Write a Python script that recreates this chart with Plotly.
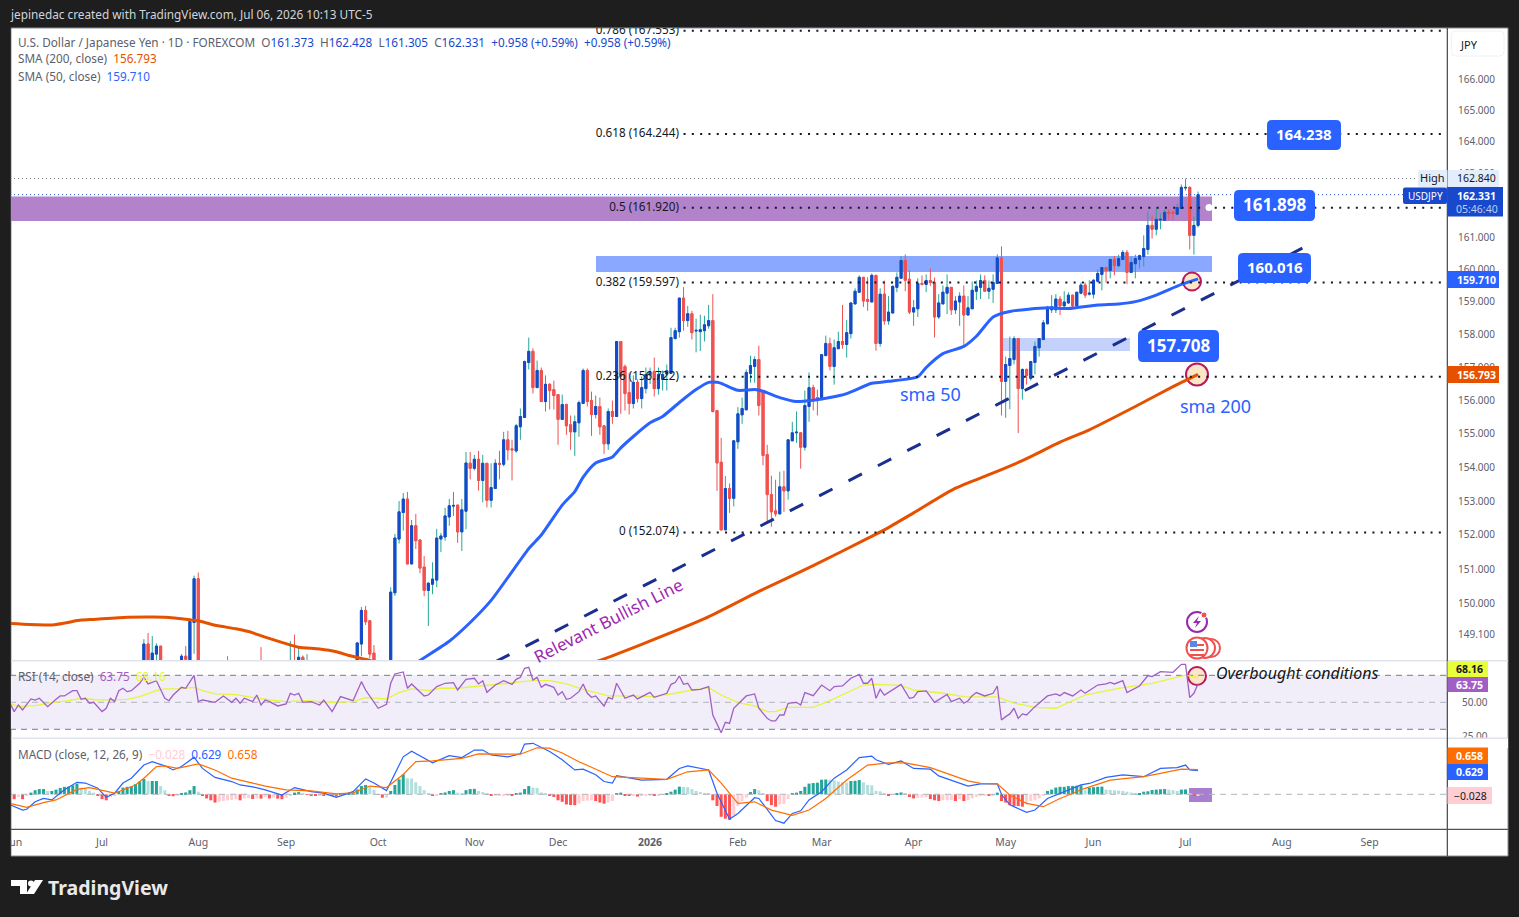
import plotly.graph_objects as go

W, H = 1519, 917
FONT = "Noto Sans"

# trading day number, 0 = 2 Jun 2025 (bars that stay under the RSI pane are left out)
bar_index = [*range(31, 36), *range(40, 45), 51, 58, 59, *range(66, 71), *range(82, 87), *range(90, 284)]

opens = [
    147.9, 148.83, 148.0, 148.54, 148.77, 147.9, 148.48, 148.0, 149.45, 150.72,
    147.8, 147.5, 147.9, 147.4, 147.9, 147.9, 148.45, 147.9, 147.8, 148.83, 149.8, 149.5, 148.57,
    148.0, 150.31, 151.88, 152.66, 153.06, 151.15, 152.27, 151.85, 151.06, 150.38,
    150.56, 150.68, 151.88, 151.94, 152.53, 152.85, 152.88, 152.09, 152.70, 154.12,
    153.97, 154.24, 153.61, 154.12, 153.02, 153.37, 154.12, 154.09, 154.82, 154.55,
    154.49, 155.21, 155.49, 157.15, 157.49, 156.39, 156.91, 155.97, 156.49, 156.33,
    156.18, 155.43, 155.88, 155.27, 155.06, 155.33, 155.91, 156.91, 156.0, 155.58,
    155.82, 155.24, 154.7, 155.67, 155.52, 157.79, 157.03, 156.24, 155.91, 156.55,
    156.06, 156.36, 156.78, 156.88, 156.36, 156.64, 156.8, 156.82, 157.88, 158.09,
    159.12, 158.43, 158.64, 158.11, 158.09, 158.12, 158.27, 158.43, 155.7, 154.15,
    152.15, 153.37, 153.08, 154.76, 155.57, 155.72, 156.82, 157.03, 157.24, 156.3,
    154.38, 153.19, 152.71, 152.62, 153.42, 153.3, 154.79, 155.03, 155.03, 154.6,
    155.82, 156.39, 156.09, 156.03, 157.36, 157.73, 157.03, 157.57, 157.79, 157.7,
    158.03, 158.94, 159.3, 159.76, 159.08, 159.0, 159.82, 157.73, 159.24, 158.42,
    158.66, 159.45, 159.73, 160.28, 159.7, 158.69, 158.79, 159.57, 159.54, 159.66,
    159.6, 158.54, 158.94, 159.27, 159.45, 158.76, 159.0, 159.18, 158.6, 158.79,
    159.33, 159.45, 159.66, 159.33, 159.39, 159.57, 160.36, 156.58, 157.06, 157.24,
    157.88, 156.36, 156.94, 156.67, 157.15, 157.6, 157.85, 158.33, 158.76, 158.76,
    159.09, 158.88, 158.97, 159.21, 158.88, 159.27, 159.52, 159.24, 159.24, 159.64,
    159.85, 160.06, 159.97, 160.31, 160.12, 160.31, 160.53, 159.91, 160.18, 160.31,
    160.4, 160.62, 161.37, 161.25, 161.54, 161.53, 161.78, 161.78, 161.72, 161.9,
    162.54, 162.56, 161.06, 161.373,
]
highs = [
    148.97, 149.15, 149.06, 148.85, 148.77, 148.54, 148.77, 149.5, 150.81, 150.9,
    148.48, 148.36, 148.74, 148.92, 149.1, 148.74, 148.5, 148.54, 148.89, 149.9, 149.93, 149.5, 148.8,
    150.47, 152.03, 153.0, 153.24, 153.27, 152.44, 152.62, 151.88, 151.38, 150.62,
    151.2, 152.18, 152.06, 152.8, 153.06, 153.27, 152.88, 153.06, 154.46, 154.46,
    154.37, 154.49, 154.37, 154.12, 154.12, 154.24, 154.49, 155.06, 155.09, 154.82,
    155.3, 155.76, 157.21, 157.91, 157.58, 157.21, 157.0, 156.76, 156.52, 156.6,
    156.18, 156.18, 155.91, 155.55, 155.55, 156.0, 156.97, 156.97, 156.27, 156.15,
    156.09, 155.24, 155.76, 156.0, 157.79, 157.79, 157.09, 156.84, 156.76, 156.64,
    156.73, 157.0, 157.0, 157.3, 157.0, 156.91, 157.09, 158.21, 158.21, 159.12,
    159.46, 158.88, 158.73, 158.49, 158.61, 158.58, 158.91, 159.24, 155.7, 154.88,
    153.74, 153.52, 154.79, 155.8, 156.09, 156.94, 157.36, 157.34, 157.66, 156.3,
    154.67, 153.75, 153.63, 153.87, 153.9, 154.82, 155.36, 155.67, 155.03, 156.3,
    156.85, 156.48, 156.33, 157.39, 157.97, 157.91, 157.85, 158.09, 158.91, 158.45,
    158.97, 159.42, 159.82, 159.76, 159.76, 159.88, 159.82, 159.42, 159.66, 159.18,
    159.51, 159.91, 160.41, 160.47, 159.97, 159.06, 159.73, 159.82, 159.85, 160.03,
    159.75, 159.24, 159.51, 159.85, 159.45, 159.18, 159.3, 159.51, 159.18, 159.63,
    159.66, 159.85, 159.82, 159.66, 159.85, 160.47, 160.72, 157.33, 157.94, 157.95,
    157.88, 156.97, 156.97, 157.18, 157.79, 157.88, 158.45, 158.88, 159.21, 159.24,
    159.18, 159.33, 159.3, 159.21, 159.3, 159.6, 159.6, 159.67, 159.7, 160.0,
    160.06, 160.09, 160.34, 160.42, 160.46, 160.6, 160.6, 160.4, 160.46, 160.46,
    161.06, 161.81, 161.68, 161.93, 161.75, 161.87, 161.87, 161.84, 162.05, 162.65,
    162.84, 162.59, 161.66, 162.428,
]
lows = [
    147.7, 147.8, 147.8, 148.2, 147.9, 147.7, 148.2, 147.9, 148.55, 147.3,
    147.5, 147.3, 147.4, 147.2, 147.4, 147.7, 147.8, 147.7, 147.6, 148.48, 149.38, 148.42, 147.7,
    147.9, 150.22, 151.75, 152.13, 151.15, 151.15, 151.59, 150.88, 150.21, 149.35,
    150.27, 150.47, 151.5, 151.83, 152.27, 152.56, 151.77, 151.53, 152.17, 153.64,
    153.91, 153.31, 152.96, 152.81, 152.81, 153.37, 153.64, 154.03, 154.21, 153.61,
    154.43, 154.82, 155.49, 156.94, 156.21, 156.39, 155.97, 155.67, 155.73, 155.73,
    154.67, 155.43, 154.97, 154.52, 154.34, 154.91, 155.91, 155.82, 154.94, 155.46,
    154.97, 154.4, 154.52, 155.3, 155.52, 155.6, 155.7, 155.58, 155.76, 155.94,
    155.76, 156.21, 156.5, 156.12, 156.18, 156.3, 156.3, 156.82, 157.85, 157.91,
    158.12, 158.24, 157.85, 157.46, 157.5, 157.79, 158.18, 155.64, 153.3, 152.13,
    152.15, 152.65, 152.84, 154.55, 155.3, 155.72, 156.54, 156.54, 155.55, 154.06,
    152.36, 152.24, 152.54, 152.62, 152.68, 153.04, 154.79, 154.73, 153.96, 154.5,
    155.36, 155.7, 155.55, 156.03, 157.36, 156.91, 156.48, 157.57, 157.57, 157.3,
    157.88, 158.94, 159.3, 158.85, 158.73, 159.0, 157.51, 157.63, 158.3, 158.3,
    158.66, 159.3, 159.73, 159.33, 158.63, 158.27, 158.54, 159.51, 159.3, 159.5,
    157.91, 158.48, 158.94, 158.63, 158.6, 158.63, 158.27, 157.63, 158.6, 158.79,
    159.06, 159.09, 159.33, 159.09, 158.97, 159.57, 155.55, 155.48, 155.74, 157.09,
    155.02, 156.03, 156.48, 156.6, 156.79, 157.33, 157.85, 158.33, 158.66, 158.66,
    158.6, 158.85, 158.94, 158.79, 158.88, 159.24, 159.12, 159.2, 159.11, 159.6,
    159.36, 159.6, 159.73, 159.82, 160.06, 160.31, 159.55, 159.91, 159.73, 160.03,
    160.09, 160.46, 160.96, 161.06, 161.25, 161.53, 161.53, 161.53, 161.72, 161.9,
    162.46, 160.62, 160.46, 161.305,
]
closes = [
    148.83, 148.0, 148.57, 148.77, 148.0, 148.48, 148.39, 149.48, 150.72, 147.4,
    147.7, 147.8, 147.6, 147.9, 147.6, 148.45, 148.0, 148.2, 148.86, 149.8, 149.47, 148.54, 147.9,
    150.33, 151.91, 152.68, 153.06, 151.15, 152.27, 151.83, 151.03, 150.38, 150.59,
    150.71, 151.91, 151.97, 152.56, 152.86, 152.87, 152.09, 152.74, 154.13, 153.97,
    154.24, 153.61, 154.12, 153.02, 153.4, 154.12, 154.09, 154.82, 154.52, 154.52,
    155.24, 155.52, 157.18, 157.49, 156.39, 156.91, 155.97, 156.49, 156.3, 156.15,
    155.43, 155.88, 155.24, 155.06, 155.36, 155.94, 156.91, 155.97, 155.58, 155.82,
    155.21, 154.7, 155.67, 155.52, 157.79, 156.73, 156.21, 155.91, 156.55, 156.06,
    156.39, 156.79, 156.86, 156.36, 156.79, 156.79, 156.9, 157.91, 158.12, 159.12,
    158.43, 158.64, 158.06, 158.13, 158.15, 158.3, 158.43, 155.67, 154.13, 152.15,
    153.37, 153.08, 154.79, 155.6, 155.76, 156.85, 157.06, 157.24, 155.85, 154.35,
    153.19, 152.68, 152.62, 153.42, 153.3, 154.82, 155.03, 155.05, 154.6, 155.85,
    156.39, 156.06, 156.0, 157.39, 157.73, 157.03, 157.6, 157.79, 157.7, 158.06,
    158.97, 159.33, 159.76, 159.03, 159.02, 159.82, 157.73, 159.24, 158.42, 158.69,
    159.48, 159.76, 160.28, 159.67, 158.69, 158.82, 159.57, 159.54, 159.66, 159.6,
    158.54, 158.97, 159.3, 159.45, 158.76, 159.03, 159.18, 158.6, 158.82, 159.36,
    159.48, 159.66, 159.33, 159.42, 159.6, 160.36, 156.58, 157.09, 157.27, 157.88,
    156.36, 156.94, 156.76, 157.18, 157.64, 157.88, 158.36, 158.78, 158.85, 159.09,
    158.88, 159.0, 159.21, 158.88, 159.3, 159.52, 159.21, 159.27, 159.67, 159.88,
    160.06, 159.97, 160.31, 160.12, 160.34, 160.53, 159.91, 160.22, 160.34, 160.43,
    160.65, 161.37, 161.25, 161.56, 161.56, 161.78, 161.75, 161.75, 161.93, 162.56,
    162.56, 161.06, 161.37, 162.331,
]

sma200_x = [-1, 9, 16, 19, 27, 33, 36, 42, 44, 48, 53, 56, 60, 65, 68, 73, 77, 80, 85, 88, 110, 130, 140,
            150, 165, 178, 191, 204, 208, 215, 225, 233, 241, 250, 257, 268, 277, 283]
sma200_y = [149.42, 149.38, 149.52, 149.54, 149.6, 149.61, 149.6, 149.53, 149.5, 149.37, 149.27, 149.19,
            149.03, 148.84, 148.74, 148.69, 148.61, 148.5, 148.36, 148.25, 147.9, 148.0, 148.36,
            148.82, 149.56, 150.35, 151.1, 151.9, 152.15, 152.65, 153.38, 153.78, 154.2, 154.75,
            155.12, 155.82, 156.42, 156.793]

sma50_x = [90, 97, 104, 109, 114, 123, 126, 131, 134, 136, 139, 143, 145, 148, 152, 155, 159, 163, 166, 168,
           169, 173, 177, 179, 183, 187, 191, 195, 199, 205, 209, 216, 218, 222, 227, 230, 234, 238,
           247, 252, 259, 264, 268, 273, 279, 283]
sma50_y = [147.8, 148.36, 148.91, 149.45, 150.09, 151.6, 152.0, 152.88, 153.28, 153.71, 154.13, 154.31, 154.58,
           154.92, 155.33, 155.52, 155.94, 156.33, 156.55, 156.55, 156.52, 156.31, 156.33, 156.28,
           156.09, 155.97, 156.01, 156.09, 156.21, 156.52, 156.58, 156.72, 157.0, 157.42, 157.64,
           157.95, 158.54, 158.71, 158.82, 158.8, 158.91, 158.94, 159.01, 159.21, 159.54, 159.71]

rsi_x = [-1, 0, 1, 2, 4, 5, 6, 8, 10, 11, 12, 14, 15, 16, 17, 18, 19, 21, 22, 23, 24, 25, 26, 27, 28, 30, 31, 32,
         34, 36, 37, 38, 40, 41, 43, 44, 45, 48, 50, 52, 53, 54, 55, 57, 58, 59, 60, 61, 63, 65, 66, 67, 68,
         69, 71, 73, 74, 76, 78, 79, 81, 83, 84, 87, 88, 89, 90, 91, 93, 94, 95, 98, 99, 101, 103, 105, 106,
         108, 110, 111, 112, 113, 115, 116, 117, 119, 120, 121, 122, 123, 124, 125, 126, 127, 129, 130, 131,
         132, 133, 135, 136, 137, 138, 139, 141, 142, 143, 144, 146, 148, 149, 152, 153, 156, 157, 158, 159,
         160, 161, 162, 164, 166, 167, 169, 170, 171, 172, 175, 177, 178, 180, 181, 182, 183, 184, 185, 187,
         188, 189, 191, 193, 195, 196, 198, 200, 202, 203, 204, 205, 206, 207, 208, 210, 212, 214, 215, 216,
         218, 220, 223, 224, 226, 227, 228, 229, 230, 232, 234, 235, 236, 237, 238, 239, 240, 241, 242, 244,
         247, 249, 250, 251, 253, 255, 256, 259, 261, 262, 263, 265, 266, 269, 271, 272, 274, 277, 279, 280,
         281, 282, 283]
rsi_y = [49.3, 43.1, 48, 44.3, 52.5, 51.7, 53, 46.8, 52.2, 54.7, 54.7, 58.6, 58.6, 52.2, 53, 49.3, 50, 43.1, 45.6,
         53, 50.5, 58.6, 60.4, 57.9, 58.6, 64.1, 68.5, 63.6,
         66, 53, 51.2, 55.4, 61.1, 60.4, 70, 50.5, 51.7, 50, 54.7, 50, 53, 49.3, 53, 50.5, 55.4, 48, 51.7, 50.5,
         47.3, 48.8, 56.7, 55.4, 56.7,
         50, 50.5, 48, 51.7, 43.1, 54.2, 53, 51.2, 65.3, 59.1, 45.6, 46.8, 48.5, 64.1, 71, 72.5, 60.4, 63.6,
         54.7, 55.4, 61.6, 64.1, 64.6, 59.1,
         67, 67.8, 63.6, 66, 57.4, 62.8, 64.1, 66, 63.3, 67, 68.5, 75.2, 75.9, 66.5, 68.5, 61.1, 63.3, 61.1, 55.4, 57.9,
         52.2, 53, 57.9, 63.6, 56.7, 53.7, 54.7, 47.3, 53.5, 52.5, 64.1, 53, 55.4, 52.5, 57.4, 53.7, 56.7, 63.3,
         64.6, 69.5,
         63.3, 64.1, 59.1, 59.6, 61.6, 40.6, 27.5, 35.2, 34.4, 45.6, 54.7, 56.2, 45.6, 38.1, 36.2, 36.2, 40.6,
         40.6, 49.3, 50,
         48, 57.2, 54.9, 62.8, 58.6, 61.6, 62.1, 67.8, 70.7, 64.1, 64.1, 67.8, 53, 59.6, 55.4, 59.6, 63.3, 53,
         53.7, 57.9,
         58.4, 50, 55.9, 50.5, 53, 49.3, 51.2, 54.9, 57.2, 54.7, 56.7, 62.1, 36.9, 39.4, 41.4, 45.6, 38.1, 41.4,
         40.6, 46.8,
         54.7, 56.2, 54.9, 57.2, 54.7, 59.1, 56.7, 62.8, 63.6, 64.8, 63.6, 66, 57.2, 62.1, 69.8, 69, 72.7, 72.2,
         78.1, 78.1,
         53.5, 56.7, 63.75]

rsi_ma_x = [-1, 1, 5, 9, 13, 16, 20, 23, 27, 30, 34, 36, 40, 43, 45, 48, 53, 57, 61, 65, 70, 76, 81, 84, 89, 92,
            95, 99, 102, 106, 110, 115, 120, 124, 128, 132, 136, 142, 148, 153, 158, 162, 166, 169, 173, 177,
            180, 182, 185, 191, 195, 201, 203, 206, 212, 215, 222, 227, 233, 235, 239, 244, 249, 256, 264, 272,
            280, 283]
rsi_ma_y = [49.3, 46.8, 47.5, 49.8, 51.2, 53, 51.7, 51.7, 52.2, 54.2, 58.6, 59.9, 60.1, 61.1, 58.6, 56.2, 55.7,
            53.7, 51.7, 50.5, 51.2, 50, 50.5, 53.5, 52.5, 57.2, 59.9, 58.6, 60.6, 60.4, 61.6, 63.3, 64.6, 66,
            66, 63.6, 59.6, 54.7, 54.7, 54.2, 56.7, 59.1, 60.9, 55.4, 49.8, 47.3, 43.1, 43.1, 46.3, 46.3, 51.2,
            59.6, 62.8, 63.3, 62.6, 59.1, 56.7, 54.2, 53.7, 54, 49.4, 46.3, 45.6, 55.4, 60.4, 64.1, 70.1, 68.16]

macd_x = [-1, 0, 2, 3, 5, 7, 9, 12, 15, 17, 20, 22, 24, 26, 28, 31, 33, 36, 38, 40, 43, 45, 48, 52, 54, 57, 60, 64,
          67, 71, 74, 77, 81, 84, 86, 89, 93, 95, 100, 104, 107, 110, 112, 114, 116, 118, 121, 122, 124, 128,
          131, 134, 136, 139, 141, 143, 144, 150, 156, 159, 161, 166, 168, 171, 173, 177, 178, 180, 182, 184,
          186, 188, 190, 193, 196, 199, 202, 205, 206, 209, 212, 215, 219, 221, 224, 228, 231, 235, 236, 238,
          242, 244, 247, 255, 257, 261, 265, 270, 274, 278, 280, 281, 283]
macd_y = [-0.28, -0.33, -0.42, -0.4, -0.2, -0.11, -0.15, 0.12, 0.32, 0.3, 0.16, -0.08, 0.03, 0.3, 0.43, 0.78, 0.87,
          0.76, 0.65, 0.74, 0.99, 0.69, 0.45, 0.34, 0.25, 0.2, 0.12, -0.02,
          0.18, 0.07, 0.03, -0.08, 0.07, 0.41, 0.3, 0.1, 1.0, 1.15, 0.84, 1.03, 0.98, 1.18, 1.18, 1.05, 1.03, 1.0,
          1.08, 1.34, 1.36, 1.14,
          0.92, 0.65, 0.67, 0.52, 0.34, 0.3, 0.5, 0.38, 0.4, 0.69, 0.76, 0.65, 0.03, -0.66, -0.51, -0.09, -0.11,
          -0.42, -0.7, -0.77,
          -0.51, -0.44, -0.15, 0.07, 0.43, 0.65, 0.98, 1.02, 0.92, 0.8, 0.89, 0.69, 0.67, 0.49, 0.37, 0.22, 0.28,
          0.28, 0.0, -0.28,
          -0.48, -0.42, -0.11, 0.25, 0.29, 0.45, 0.52, 0.47, 0.69, 0.71, 0.78, 0.65, 0.629]

signal_x = [-1, 3, 7, 10, 15, 18, 20, 24, 29, 31, 34, 36, 39, 44, 48, 52, 57, 60, 65, 71, 77, 81, 85, 89, 93, 96,
            100, 107, 111, 116, 121, 125, 128, 131, 135, 138, 143, 150, 156, 161, 166, 169, 173, 177, 181, 186,
            190, 194, 199, 204, 209, 213, 219, 228, 231, 235, 238, 242, 246, 250, 256, 262, 270, 274, 279, 283]
signal_y = [-0.24, -0.35, -0.22, -0.15, 0.13, 0.18, 0.13, 0.03, 0.25, 0.43, 0.74, 0.76, 0.69, 0.81, 0.65, 0.43, 0.3,
            0.22, 0.12, 0.09, 0.01, 0.04, 0.22, 0.18, 0.53, 0.87, 0.89, 0.96, 1.08, 1.07, 1.07, 1.24, 1.23, 1.1,
            0.87, 0.72, 0.47, 0.43, 0.4, 0.6, 0.65, 0.3, -0.24, -0.2, -0.42, -0.56, -0.42, -0.11, 0.38, 0.78, 0.84,
            0.84, 0.71, 0.36, 0.29, 0.28, -0.02, -0.24, -0.33, -0.11, 0.16, 0.38, 0.47, 0.56, 0.67, 0.658]

macd_hist = [
    -.13, -.07, -.13, -.045, .045, .11, .14, .14, .09, .09,
    .125, .17, .2, .205, .24, .285, .18, .16, .09, .045,
    -.03, -.13, -.16, -.07, -.03, .09, .18, .2, .21, .27,
    .34, .41, .355, .355, .355, .22, .11, -.03, -.05, -.03,
    .02, .05, .11, .22, .07, -.03, -.11, -.16, -.22, -.2,
    -.18, -.16, -.15, -.13, -.16, -.11, -.105, -.125, -.11, -.115,
    -.07, -.11, -.09, -.115, -.13, -.09, -.03, .045, .06, .03,
    -.01, -.03, -.035, -.03, -.045, -.02, -.045, -.06, .03, .035,
    .045, .05, .13, .22, .25, .2, .125, -.01, -.09, -.09,
    .09, .25, .4, .53, .43, .42, .32, .22, .11, .01,
    -.03, -.02, .03, .05, .09, .11, .045, .03, .11, .14,
    .145, .09, .06, .01, -.045, -.02, -.02, -.02, -.02, -.045,
    .02, .045, .14, .22, .18, .17, .05, .03, -.045, -.07,
    -.16, -.2, -.27, -.285, -.29, -.25, -.18, -.17, -.16, -.18,
    -.22, -.25, -.22, -.18, .01, .045, -.03, -.045, -.02, -.06,
    -.05, -.035, -.02, -.035, -.02, -.015, .01, .07, .125, .205,
    .2, .19, .14, .09, .06, .035, .03, -.16, -.31, -.6,
    -.65, -.68, -.55, -.31, -.18, -.09, .06, .14, .11, .01,
    -.18, -.29, -.33, -.27, -.26, -.125, .01, .045, .09, .2,
    .285, .3, .31, .39, .395, .39, .37, .34, .32, .31,
    .355, .36, .38, .32, .25, .24, .09, .08, .01, -.03,
    -.01, .01, .05, .03, -.07, -.11, -.09, -.085, -.08, -.125,
    -.16, -.18, -.16, -.155, -.15, -.18, -.13, -.18, -.16, -.11,
    -.07, -.045, -.02, -.03, -.02, .045, -.18, -.22, -.29, -.31,
    -.315, -.33, -.27, -.18, -.16, -.11, -.045, .09, .125, .18,
    .2, .2, .22, .225, .23, .24, .11, .18, .19, .2,
    .205, .125, .115, .11, .1, .09, .07, .045, .02, .03,
    .07, .08, .115, .125, .135, .14, .125, .11, .09, .125,
    .13, .02, -.03, -.028,
]

fib_labels = ["0.786", "0.618", "0.5", "0.382", "0.236", "0"]
fib_values = [167.553, 164.244, 161.920, 159.597, 156.722, 152.074]
high_value = 162.840
last_value = 162.331
trend_x = [115.2, 308.8]
trend_y = [148.33, 160.72]

price_ticks = [149.1, 150, 151, 152, 153, 154, 155, 156, 157, 158, 159, 160, 161, 163, 164, 165, 166]
rsi_ticks = [50, 25]
rsi_levels = [70, 50, 30]
month_ticks = [0, 21, 44, 65, 87, 110, 130, 152, 173, 193, 215, 237, 258, 280, 303, 324]
month_labels = ["Jun", "Jul", "Aug", "Sep", "Oct", "Nov", "Dec", "<b>2026</b>", "Feb", "Mar", "Apr", "May", "Jun", "Jul", "Aug", "Sep"]

assert len(opens) == len(highs) == len(lows) == len(closes) == len(bar_index)
assert len(macd_hist) == 284
assert len(rsi_x) == len(rsi_y) and len(macd_x) == len(macd_y) and len(signal_x) == len(signal_y)
assert len(sma50_x) == len(sma50_y) and len(sma200_x) == len(sma200_y) and len(rsi_ma_x) == len(rsi_ma_y)

BLUE = "#1848cc"
RED = "#ef5350"
TEAL = "#26a69a"
TEXT = "#5d606b"


def fx(px):
    return px / W


def fy(py):
    return 1 - py / H


fig = go.Figure()

# wicks first, the bodies go on top of them so they can have their own colour
fig.add_trace(go.Candlestick(
    x=bar_index, open=opens, high=highs, low=lows, close=closes, whiskerwidth=0,
    increasing=dict(line=dict(color=TEAL, width=1), fillcolor=TEAL),
    decreasing=dict(line=dict(color=RED, width=1), fillcolor=RED),
))
body_high = [max(o, c) for o, c in zip(opens, closes)]
body_low = [min(o, c) for o, c in zip(opens, closes)]
fig.add_trace(go.Candlestick(
    x=bar_index, open=opens, high=body_high, low=body_low, close=closes, whiskerwidth=0,
    increasing=dict(line=dict(color=BLUE, width=1), fillcolor=BLUE),
    decreasing=dict(line=dict(color=RED, width=1), fillcolor=RED),
))

fig.add_trace(go.Scatter(x=sma200_x, y=sma200_y, mode="lines", line=dict(color="#e65100", width=3, shape="spline", smoothing=0.6)))
fig.add_trace(go.Scatter(x=sma50_x, y=sma50_y, mode="lines", line=dict(color="#2962ff", width=3, shape="spline", smoothing=0.6)))
fig.add_trace(go.Scatter(x=trend_x, y=trend_y, mode="lines", line=dict(color="#1a2f8f", width=3, dash="15px,18px")))

# price lines
fig.add_trace(go.Scatter(x=[-1, 343], y=[high_value] * 2, mode="lines", line=dict(color="#787b86", width=1, dash="1px,3px")))
fig.add_trace(go.Scatter(x=[-1, 343], y=[last_value] * 2, mode="lines", line=dict(color=BLUE, width=1, dash="1px,3px")))

# fibonacci levels
for v in fib_values:
    fig.add_trace(go.Scatter(x=[160, 343], y=[v, v], mode="lines", line=dict(color="#131722", width=2, dash="2px,6.3px")))
fig.add_trace(go.Scatter(
    x=[158.9] * len(fib_values), y=fib_values, mode="text",
    text=[f"{a} ({b:.3f})" for a, b in zip(fib_labels, fib_values)],
    textposition="middle left", textfont=dict(family=FONT, size=11.7, color="#131722"),
))

# RSI pane
for lv in rsi_levels:
    col = "#787b86" if lv != 50 else "#b2b5be"
    fig.add_trace(go.Scatter(x=[-1, 343], y=[lv, lv], yaxis="y2", mode="lines", line=dict(color=col, width=1, dash="6px,5px")))
fig.add_trace(go.Scatter(x=rsi_ma_x, y=rsi_ma_y, yaxis="y2", mode="lines", line=dict(color="#e6f53c", width=1.3)))
fig.add_trace(go.Scatter(x=rsi_x, y=rsi_y, yaxis="y2", mode="lines", line=dict(color="#a15fc6", width=1.3)))

# MACD pane
hist_colors = []
prev = 0
for v in macd_hist:
    if v >= 0:
        hist_colors.append("#26a69a" if v >= prev else "#b2dfdb")
    else:
        hist_colors.append("#ff5252" if v < prev else "#ffcdd2")
    prev = v
fig.add_trace(go.Scatter(x=[-1, 343], y=[0, 0], yaxis="y3", mode="lines", line=dict(color="#b2b5be", width=1, dash="6px,5px")))
fig.add_trace(go.Bar(x=list(range(len(macd_hist))), y=macd_hist, yaxis="y3", marker=dict(color=hist_colors, line=dict(width=0)), width=0.72))
fig.add_trace(go.Scatter(x=macd_x, y=macd_y, yaxis="y3", mode="lines", line=dict(color="#2962ff", width=1.2)))
fig.add_trace(go.Scatter(x=signal_x, y=signal_y, yaxis="y3", mode="lines", line=dict(color="#ff6d00", width=1.2)))

shapes = []
notes = []


def rect(x0, y0, x1, y1, fill, layer="below", line=None, lw=0):
    shapes.append(dict(type="rect", xref="paper", yref="paper", x0=fx(x0), x1=fx(x1), y0=fy(y0), y1=fy(y1),
                       fillcolor=fill, layer=layer, line=dict(color=line or fill, width=lw)))


def round_box(x0, y0, x1, y1, fill, r=4, line=None, lw=0):
    p = (f"M {fx(x0 + r)},{fy(y0)} L {fx(x1 - r)},{fy(y0)} Q {fx(x1)},{fy(y0)} {fx(x1)},{fy(y0 + r)} "
         f"L {fx(x1)},{fy(y1 - r)} Q {fx(x1)},{fy(y1)} {fx(x1 - r)},{fy(y1)} "
         f"L {fx(x0 + r)},{fy(y1)} Q {fx(x0)},{fy(y1)} {fx(x0)},{fy(y1 - r)} "
         f"L {fx(x0)},{fy(y0 + r)} Q {fx(x0)},{fy(y0)} {fx(x0 + r)},{fy(y0)} Z")
    shapes.append(dict(type="path", xref="paper", yref="paper", path=p, fillcolor=fill, layer="above",
                       line=dict(color=line or fill, width=lw)))


def circle(cx, cy, r, fill, line, lw=2, layer="above"):
    shapes.append(dict(type="circle", xref="paper", yref="paper", x0=fx(cx - r), x1=fx(cx + r), y0=fy(cy - r), y1=fy(cy + r),
                       fillcolor=fill, layer=layer, line=dict(color=line, width=lw)))


def poly(points, fill, layer="above"):
    p = "M " + " L ".join(f"{fx(a)},{fy(b)}" for a, b in points) + " Z"
    shapes.append(dict(type="path", xref="paper", yref="paper", path=p, fillcolor=fill, layer=layer, line=dict(width=0)))


def note(px, py, text, size=11, color=TEXT, anchor="left", angle=0, family=FONT):
    notes.append(dict(xref="paper", yref="paper", x=fx(px), y=fy(py), text=text, showarrow=False, xanchor=anchor,
                      yanchor="middle", textangle=angle, borderpad=0, font=dict(family=family, size=size, color=color)))


def span(text, color):
    return f'<span style="color:{color}">{text}</span>'


# chart background and the zones drawn on it
rect(11, 28, 1508, 856, "#ffffff", line="#8a8d96", lw=1)
rect(11, 196.5, 1212, 221, "#b283ca")
rect(596, 256, 1212, 272, "#8aa8ff")
rect(1001, 338, 1130, 351, "#c3d1fb")
rect(11, 675.3, 1447, 729.3, "#f1edf9")
rect(1189, 788, 1212, 802, "#a87fd0")
circle(1192, 281.5, 9, "#fbe6c5", "#b7185f", layer="below")
circle(1197, 374.5, 11, "#fbe6c5", "#b7185f", layer="below")
circle(1197, 676, 9, "#fbe6c5", "#b7185f", layer="below")
circle(1209, 207.5, 3.5, "#ffffff", "#ffffff", lw=0)

# frame pieces
rect(0, 28, 10.5, 856, "#1e1e1e", layer="above")
rect(1448, 738, 1508, 748, "#ffffff", layer="above")
rect(11, 660, 1508, 661.5, "#e0e3eb", layer="above")
rect(11, 737.5, 1508, 739, "#e0e3eb", layer="above")
rect(11, 828.7, 1508, 830, "#50535e", layer="above")
rect(1446.7, 28, 1448, 856, "#50535e", layer="above")

# icons above the RSI pane
circle(1197, 622, 10, "#ffffff", "#9c27b0")
poly([(1199, 616), (1193, 623), (1197, 623), (1195, 628), (1201, 621), (1197, 621)], "#9c27b0")
circle(1204, 615, 3, "#ef5350", "#ffffff", lw=1)
circle(1211, 648, 9, "#ffffff", "#ef5350")
circle(1205, 648, 10, "#ffffff", "#ef5350")
circle(1197, 648, 10.5, "#ffffff", "#ef5350")
for sy in (645, 650, 655):
    rect(1190, sy - 1, 1204, sy + 1, "#ef5350", layer="above")
rect(1190, 641, 1197, 647, "#5b86e5", layer="above")

# price tags on the chart
for cx0, cy0, cx1, cy1, label, sz in [(1267, 120, 1341, 150, "164.238", 15), (1234, 190, 1315, 221, "161.898", 17),
                                      (1238, 253, 1311, 283, "160.016", 15), (1138, 330, 1219, 362, "157.708", 17)]:
    round_box(cx0, cy0, cx1, cy1, "#2962ff", r=5)
    note((cx0 + cx1) / 2, (cy0 + cy1) / 2 - 1, f"<b>{label}</b>", size=sz, color="#ffffff", anchor="center")

note(930, 394, "sma 50", size=18, color="#2962ff", anchor="center")
note(1215, 406, "sma 200", size=18, color="#2962ff", anchor="center")
note(608, 620, "Relevant Bullish Line", size=17, color="#9c27b0", anchor="center", angle=-27)
note(1297, 673, "<i>Overbought conditions</i>", size=16, color="#131722", anchor="center")

# right scale tags
round_box(1451.5, 31, 1504, 56, "#ffffff", r=4, line="#f0f1f4", lw=1)
note(1469, 44, "JPY", size=11, color="#131722", anchor="center")
round_box(1418, 170, 1447, 187, "#e3edfc", r=2)
rect(1447.5, 170, 1499, 187, "#e3edfc", layer="above")
note(1432, 178, "High", size=11, color="#131722", anchor="center")
note(1476, 178, "162.840", size=10.5, color="#131722", anchor="center")
round_box(1403, 187.5, 1447, 204, BLUE, r=2)
rect(1447.5, 187, 1503, 216.5, BLUE, layer="above")
note(1425, 196, "USDJPY", size=10, color="#ffffff", anchor="center")
note(1476, 196, "<b>162.331</b>", size=10.5, color="#ffffff", anchor="center")
note(1477, 209, "05:46:40", size=10.5, color="#bcd0f5", anchor="center")
rect(1447.5, 271, 1499, 288, "#2962ff", layer="above")
note(1476, 280, "<b>159.710</b>", size=10.5, color="#ffffff", anchor="center")
rect(1447.5, 366, 1499, 383, "#e65100", layer="above")
note(1476, 375, "<b>156.793</b>", size=10.5, color="#ffffff", anchor="center")
rect(1447.5, 661, 1488, 677, "#e8ff3a", layer="above")
note(1469, 669, "<b>68.16</b>", size=10.5, color="#131722", anchor="center")
rect(1447.5, 677, 1488, 692, "#a15fc6", layer="above")
note(1469, 684.5, "<b>63.75</b>", size=10.5, color="#ffffff", anchor="center")
rect(1447.5, 747.5, 1488, 764, "#ff6d00", layer="above")
note(1469, 755.5, "<b>0.658</b>", size=10.5, color="#ffffff", anchor="center")
rect(1447.5, 764, 1488, 780, "#2962ff", layer="above")
note(1469, 771.5, "<b>0.629</b>", size=10.5, color="#ffffff", anchor="center")
rect(1447.5, 787, 1492, 804, "#ffcdd2", layer="above")
note(1470, 795.5, "−0.028", size=10.5, color="#131722", anchor="center")

# header and legends
note(9, 14, "jepinedac created with TradingView.com, Jul 06, 2026 10:13 UTC-5", size=11.8, color="#d1d4dc")
c_blue = "#1848cc"
note(17, 42, "U.S. Dollar / Japanese Yen · 1D · FOREXCOM &nbsp;O" + span("161.373", c_blue) + " &nbsp;H" + span("162.428", c_blue)
     + " &nbsp;L" + span("161.305", c_blue) + " &nbsp;C" + span("162.331", c_blue) + " &nbsp;"
     + span("+0.958 (+0.59%) &nbsp;+0.958 (+0.59%)", c_blue), size=11.75)
note(17, 58.5, "SMA (200, close) &nbsp;" + span("156.793", "#e65100"), size=11.75)
note(17, 75.5, "SMA (50, close) &nbsp;" + span("159.710", "#2962ff"), size=11.75)
note(17, 675.5, "RSI (14, close) &nbsp;" + span("63.75", "#a15fc6") + " &nbsp;" + span("68.16", "#e6f53c"), size=11.75)
note(17, 753.5, "MACD (close, 12, 26, 9) &nbsp;" + span("−0.028", "#ffcdd2") + " &nbsp;" + span("0.629", "#2962ff")
     + " &nbsp;" + span("0.658", "#ff6d00"), size=11.75)

# TradingView logo
poly([(11, 880), (27, 880), (27, 894), (20, 894), (20, 886), (11, 886)], "#ffffff")
circle(31, 883.5, 3, "#ffffff", "#ffffff", lw=0)
poly([(35, 880), (43, 880), (34, 894), (26, 894)], "#ffffff")
note(47, 887, "<b>TradingView</b>", size=19.5, color="#e9e9ea")

axis_font = dict(family=FONT, size=10, color=TEXT)

fig.update_layout(
    width=W, height=H,
    margin=dict(l=0, r=0, t=0, b=0),
    paper_bgcolor="#1e1e1e",
    plot_bgcolor="rgba(0,0,0,0)",
    showlegend=False,
    shapes=shapes,
    annotations=notes,
    barmode="overlay",
    xaxis=dict(
        domain=[fx(11), fx(1447)], range=[-0.765, 342.5], anchor="y3", rangeslider=dict(visible=False), automargin=False,
        tickmode="array", tickvals=month_ticks, ticktext=month_labels, showgrid=False, zeroline=False,
        ticks="outside", ticklen=3, tickcolor="rgba(0,0,0,0)", tickfont=dict(family=FONT, size=10.5, color=TEXT),
    ),
    yaxis=dict(
        domain=[fy(660), fy(28)], type="log", range=[2.17135, 2.22439], side="right", anchor="x", automargin=False,
        tickmode="array", tickvals=price_ticks, ticktext=[f"{v:.3f}" for v in price_ticks], showgrid=False, zeroline=False,
        ticks="outside", ticklen=8, tickcolor="rgba(0,0,0,0)", tickfont=axis_font,
    ),
    yaxis2=dict(
        domain=[fy(738), fy(661)], range=[23.56, 80.6], side="right", anchor="x", automargin=False,
        tickmode="array", tickvals=rsi_ticks, ticktext=[f"{v:.2f}" for v in rsi_ticks], showgrid=False, zeroline=False,
        ticks="outside", ticklen=12, tickcolor="rgba(0,0,0,0)", tickfont=axis_font,
    ),
    yaxis3=dict(
        domain=[fy(829), fy(739)], range=[-0.925, 1.475], side="right", anchor="x", automargin=False,
        showticklabels=False, showgrid=False, zeroline=False,
    ),
)

fig.write_html("out.html", config=dict(displayModeBar=False), post_script="document.body.style.margin='0';document.body.style.background='#1e1e1e';")
